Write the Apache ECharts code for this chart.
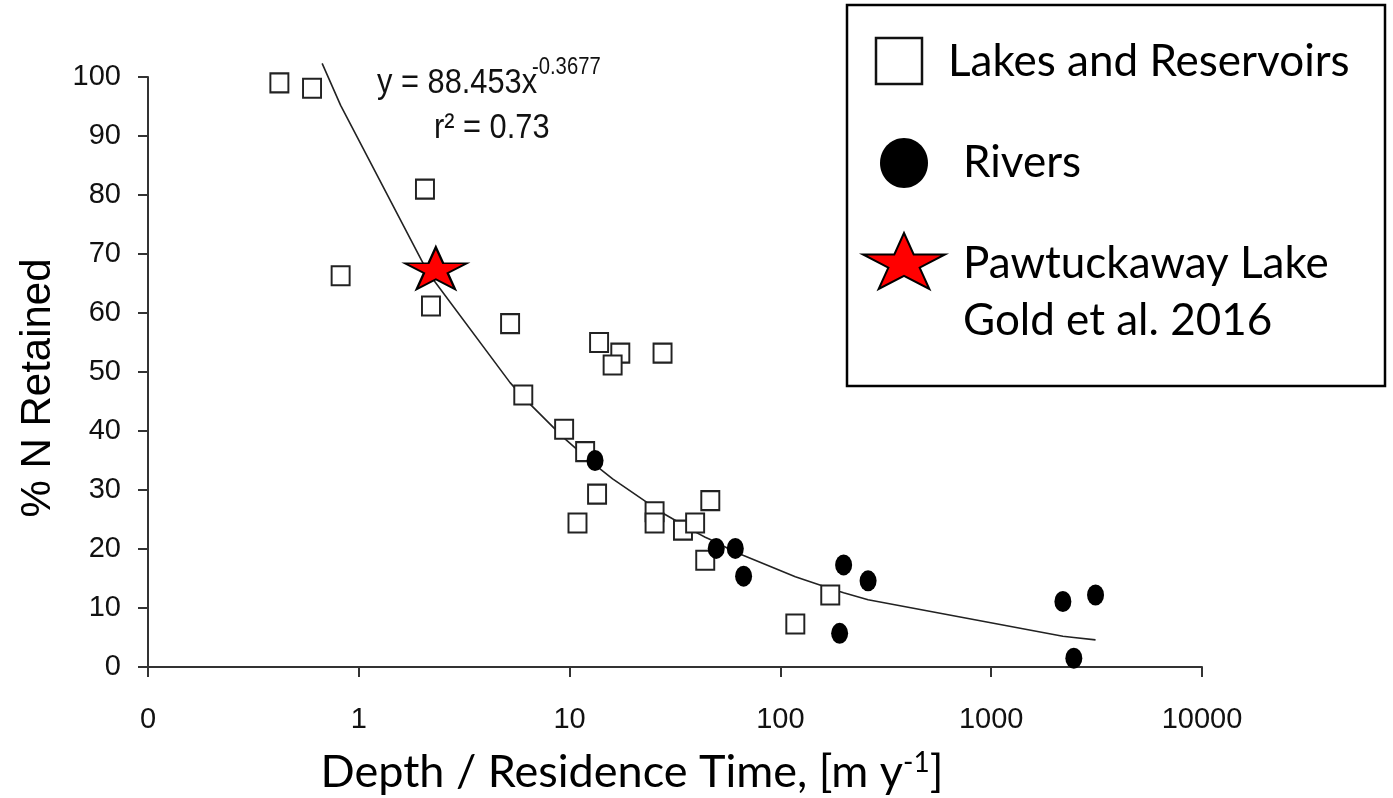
<!DOCTYPE html>
<html>
<head>
<meta charset="utf-8">
<script src="https://cdn.jsdelivr.net/npm/echarts@6/dist/echarts.min.js"></script>
<style>
  html, body { margin: 0; padding: 0; background: #fff; }
  #chart { width: 1393px; height: 798px; }
</style>
</head>
<body>
<div id="chart"></div>
<script>
// Lakes and reservoirs: [depth / residence time (m/y), % N retained]
const lakes = [
  [0.42, 99.0], [0.60, 98.1], [0.82, 66.3], [2.06, 81.0], [2.20, 61.2],
  [5.22, 58.2], [6.03, 46.1], [9.42, 40.3], [10.9, 24.4], [11.85, 36.5],
  [13.5, 29.3], [13.8, 55.0], [17.4, 53.2], [16.0, 51.2], [25.3, 26.3],
  [25.3, 24.4], [27.6, 53.2], [34.5, 23.2], [39.4, 24.4], [44.0, 18.1],
  [46.5, 28.2], [117.7, 7.3], [172.4, 12.2]
];

// Rivers
const rivers = [
  [13.2, 35.0], [49.6, 20.1], [61.1, 20.1], [66.9, 15.4], [191, 5.7],
  [199.5, 17.3], [260.6, 14.6], [2188, 11.1], [2466, 1.5], [3126, 12.2]
];

// Pawtuckaway Lake (Gold et al. 2016)
const pawtuckaway = [[2.32, 67.6]];

// Power-law fit, traced as a polyline through the data positions
const trend = [
  [0.67, 102.3], [0.82, 95.2], [2.06, 67.8], [2.20, 66.2], [5.22, 48.2],
  [6.03, 45.7], [9.42, 38.8], [10.9, 36.8], [11.85, 35.6], [13.2, 34.3],
  [13.5, 34.0], [13.8, 33.7], [16.0, 31.9], [17.4, 31.0], [25.3, 27.0],
  [27.6, 26.1], [34.5, 24.1], [39.4, 22.9], [44.0, 22.0], [46.5, 21.6],
  [49.6, 21.1], [61.1, 19.5], [66.9, 18.9], [117.7, 15.3], [172.4, 13.3],
  [191, 12.8], [199.5, 12.6], [260.6, 11.4], [2188, 5.2], [2466, 5.0],
  [3126, 4.6]
];

const xTickLabels = { 0.1: '0', 1: '1', 10: '10', 100: '100', 1000: '1000', 10000: '10000' };
const legendLabels = ['Lakes and Reservoirs', 'Rivers', 'Pawtuckaway Lake', 'Gold et al. 2016'];
const fitText = { equation: 'y = 88.453x', exponent: '-0.3677', r2: 'r\u00B2 = 0.73' };

// five-pointed star outline, outer radius 100, inner radius 38.2
const STAR_PTS = [
  [0, -100], [22.45, -30.9], [95.1, -30.9], [36.3, 11.8], [58.8, 80.9],
  [0, 38.2], [-58.8, 80.9], [-36.3, 11.8], [-95.1, -30.9], [-22.45, -30.9]
];
const STAR = 'path://M' + STAR_PTS.map(p => p.join(',')).join(' L') + ' Z';

// star polygon fitted into a box (used for the legend glyph)
function starInBox(x, y, w, h) {
  const sx = w / 190.2, sy = h / 180.9;
  return STAR_PTS.map(([px, py]) => [x + (px + 95.1) * sx, y + (py + 100) * sy]);
}

const AXIS_FONT = '"Liberation Sans", Arial, sans-serif';
const TITLE_FONT = 'Lato, "Open Sans", sans-serif';
const axisColor = '#333';

const chart = echarts.init(document.getElementById('chart'), null, { renderer: 'canvas' });

chart.setOption({
  backgroundColor: '#fff',
  animation: false,
  grid: { left: 148, right: 191, top: 77, bottom: 131, outerBoundsMode: 'none' },
  xAxis: {
    type: 'log',
    logBase: 10,
    min: 0.1,
    max: 10000,
    axisLine: { lineStyle: { color: axisColor, width: 2 } },
    axisTick: { length: 10, lineStyle: { color: axisColor, width: 2 } },
    splitLine: { show: false },
    minorTick: { show: false },
    axisLabel: {
      margin: 38,
      fontFamily: AXIS_FONT,
      fontSize: 29,
      color: '#111',
      formatter: v => xTickLabels[+(+v).toPrecision(6)] ?? String(v)
    },
    name: '{a|Depth / Residence Time, [m y}{s|-1}{a|]}',
    nameLocation: 'middle',
    nameGap: 82,
    nameTextStyle: {
      padding: [0, 86, 0, 0],
      rich: {
        a: { fontFamily: TITLE_FONT, fontSize: 45, color: '#000', lineHeight: 46 },
        s: { fontFamily: TITLE_FONT, fontSize: 28, color: '#000', lineHeight: 46, verticalAlign: 'top' }
      }
    }
  },
  yAxis: {
    type: 'value',
    min: 0,
    max: 100,
    interval: 10,
    axisLine: { show: true, lineStyle: { color: axisColor, width: 2 } },
    axisTick: { show: true, length: 10, lineStyle: { color: axisColor, width: 2 } },
    splitLine: { show: false },
    axisLabel: { margin: 27, fontFamily: AXIS_FONT, fontSize: 29, color: '#111' },
    name: '% N Retained',
    nameLocation: 'middle',
    nameRotate: 90,
    nameGap: 89,
    nameTextStyle: { fontFamily: AXIS_FONT, fontSize: 42, color: '#000', padding: [0, 32, 0, 0] }
  },
  series: [
    {
      name: 'Fit',
      type: 'line',
      data: trend,
      symbol: 'none',
      clip: false,
      z: 1,
      lineStyle: { color: '#222', width: 1.6 }
    },
    {
      name: 'Lakes and Reservoirs',
      type: 'scatter',
      data: lakes,
      symbol: 'rect',
      symbolSize: [18, 19],
      z: 2,
      itemStyle: { color: '#fff', borderColor: '#222', borderWidth: 2, opacity: 1 }
    },
    {
      name: 'Rivers',
      type: 'scatter',
      data: rivers,
      symbol: 'circle',
      symbolSize: [17, 21],
      z: 3,
      itemStyle: { color: '#000', opacity: 1 }
    },
    {
      name: 'Pawtuckaway Lake',
      type: 'scatter',
      data: pawtuckaway,
      symbol: STAR,
      symbolSize: [62, 42],
      symbolKeepAspect: false,
      z: 4,
      itemStyle: { color: '#ff0000', borderColor: '#000', borderWidth: 2, opacity: 1 }
    }
  ],
  graphic: [
    // fit equation (slightly condensed lettering)
    {
      type: 'text', x: 377, y: 66, scaleX: 0.88, z: 10,
      style: { text: fitText.equation, font: '35px ' + AXIS_FONT, fill: '#111' }
    },
    {
      type: 'text', x: 532, y: 56, scaleX: 0.88, z: 10,
      style: { text: fitText.exponent, font: '23px ' + AXIS_FONT, fill: '#111' }
    },
    {
      type: 'text', x: 434, y: 111, scaleX: 0.88, z: 10,
      style: { text: fitText.r2, font: '35px ' + AXIS_FONT, fill: '#111' }
    },
    // legend box
    {
      type: 'rect', z: 10,
      shape: { x: 847, y: 5, width: 538, height: 381 },
      style: { fill: '#fff', stroke: '#000', lineWidth: 2.5 }
    },
    {
      type: 'rect', z: 11,
      shape: { x: 876, y: 38, width: 46, height: 46 },
      style: { fill: '#fff', stroke: '#111', lineWidth: 2.5 }
    },
    {
      type: 'ellipse', z: 11,
      shape: { cx: 904, cy: 163, rx: 24, ry: 25 },
      style: { fill: '#000' }
    },
    {
      type: 'polygon', z: 11,
      shape: { points: starInBox(863, 233, 82, 56) },
      style: { fill: '#ff0000', stroke: '#000', lineWidth: 2 }
    },
    {
      type: 'text', x: 948, y: 62, z: 11,
      style: { text: legendLabels[0], font: '44px ' + TITLE_FONT, fill: '#000', verticalAlign: 'middle' }
    },
    {
      type: 'text', x: 963, y: 163, z: 11,
      style: { text: legendLabels[1], font: '44px ' + TITLE_FONT, fill: '#000', verticalAlign: 'middle' }
    },
    {
      type: 'text', x: 963, y: 264, z: 11,
      style: { text: legendLabels[2], font: '44px ' + TITLE_FONT, fill: '#000', verticalAlign: 'middle' }
    },
    {
      type: 'text', x: 963, y: 321, z: 11,
      style: { text: legendLabels[3], font: '44px ' + TITLE_FONT, fill: '#000', verticalAlign: 'middle' }
    }
  ]
});
</script>
</body>
</html>
